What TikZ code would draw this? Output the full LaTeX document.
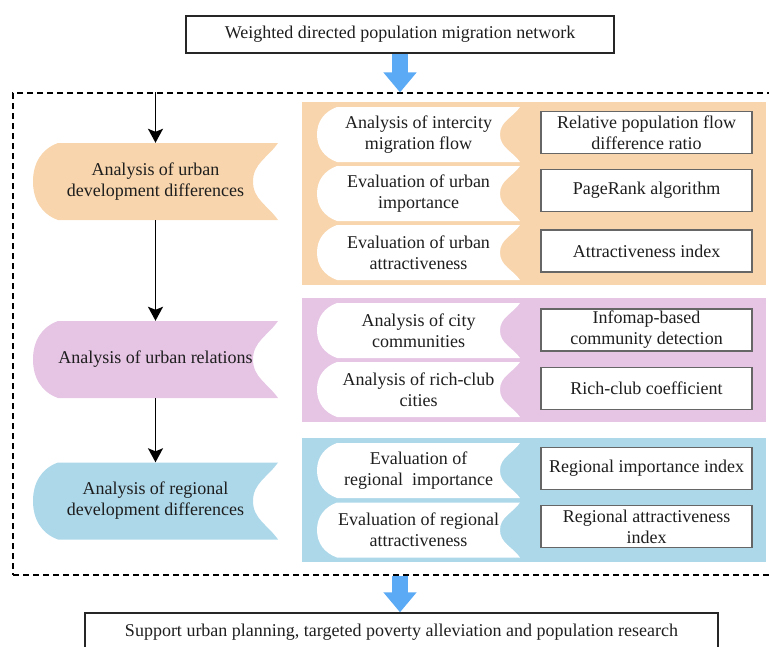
\documentclass[tikz,border=0pt]{standalone}
\usepackage{fontspec}
\setmainfont{Liberation Serif}
\usetikzlibrary{arrows.meta}
\definecolor{peach}{RGB}{248,213,172}
\definecolor{orchid}{RGB}{229,196,228}
\definecolor{skyb}{RGB}{173,216,234}
\definecolor{arrowblue}{RGB}{90,170,245}
\definecolor{ink}{RGB}{30,30,30}
\tikzset{
  txt/.style={font=\fontsize{18}{21}\selectfont, text=ink, align=center, inner sep=0pt},
  banner/.style 2 args={txt, path picture={
    \fill[#1] ([xshift=#2]path picture bounding box.north west) -- (path picture bounding box.north east)
      to[out=235,in=90] ([xshift=-#2]path picture bounding box.east)
      to[out=-90,in=125] (path picture bounding box.south east)
      -- ([xshift=#2]path picture bounding box.south west)
      to[out=160,in=-90] (path picture bounding box.west)
      to[out=90,in=200] ([xshift=#2]path picture bounding box.north west) -- cycle;}},
  bigbanner/.style={banner={#1}{25pt}, minimum width=245pt, minimum height=77pt},
  smallbanner/.style={banner={white}{20pt}, minimum width=203pt, minimum height=55pt},
  panel/.style={inner sep=0pt, minimum width=464pt},
  method/.style={txt, draw=black!60, fill=white, line width=1.2pt, minimum width=211pt, minimum height=42pt},
  endbox/.style={txt, draw=black!85, line width=1.4pt},
  arr/.style={-{Stealth[length=14pt,width=15pt,inset=3pt]}, line width=1.6pt},
  bigarrow/.style={arrowblue, line width=16pt, -{Triangle[length=20pt,width=32pt]}},
}
\begin{document}
\begin{tikzpicture}[x=1pt,y=-1pt]
\useasboundingbox (0,0) rectangle (769,646);
\clip (0,0) rectangle (769,646);
\node[endbox, minimum width=428pt, minimum height=37pt] (top) at (400,34.5) {Weighted directed population migration network};
\node[draw, dash pattern=on 6pt off 4pt, line width=1.2pt, minimum width=759pt, minimum height=482pt] (frame) at (392.5,334) {};
\node[panel, fill=peach, minimum height=183pt] (pnl1) at (534,193.5) {};
\node[panel, fill=orchid, minimum height=124pt] (pnl2) at (534,360) {};
\node[panel, fill=skyb, minimum height=124pt] (pnl3) at (534,500) {};
\node[bigbanner=peach] (lb1) at (155.5,181.5) {Analysis of urban\\development differences};
\node[bigbanner=orchid] (lb2) at (155.5,359.5) {Analysis of urban relations};
\node[bigbanner=skyb] (lb3) at (155.5,501) {Analysis of regional\\development differences};
\draw[arr] (lb1.north |- frame.north) -- (lb1.north);
\draw[arr] (lb1.south) -- (lb2.north);
\draw[arr] (lb2.south) -- (lb3.north);
\node[smallbanner] (ib1) at (418.5,134.5) {Analysis of intercity\\migration flow};
\node[smallbanner] (ib2) at (418.5,193.5) {Evaluation of urban\\importance};
\node[smallbanner] (ib3) at (418.5,252.5) {Evaluation of urban\\attractiveness};
\node[smallbanner] (ib4) at (418.5,330.5) {Analysis of city\\communities};
\node[smallbanner] (ib5) at (418.5,389.5) {Analysis of rich-club\\cities};
\node[smallbanner] (ib6) at (418.5,470.5) {Evaluation of\\regional \ importance};
\node[smallbanner] (ib7) at (418.5,530) {Evaluation of regional\\attractiveness};
\node[method] (bx1) at (646.5,132.5) {Relative population flow\\difference ratio};
\node[method] (bx2) at (646.5,190.5) {PageRank algorithm};
\node[method] (bx3) at (646.5,251) {Attractiveness index};
\node[method] (bx4) at (646.5,330) {Infomap-based\\community detection};
\node[method] (bx5) at (646.5,388.5) {Rich-club coefficient};
\node[method] (bx6) at (646.5,468.5) {Regional importance index};
\node[method] (bx7) at (646.5,526.5) {Regional attractiveness\\index};
\node[endbox, minimum width=633pt, minimum height=39pt] (bottom) at (401.5,632.5) {Support urban planning, targeted poverty alleviation and population research};
\draw[bigarrow] (top.south) -- (top.south |- frame.north);
\draw[bigarrow] (top.south |- frame.south) -- (top.south |- bottom.north);
\end{tikzpicture}
\end{document}
